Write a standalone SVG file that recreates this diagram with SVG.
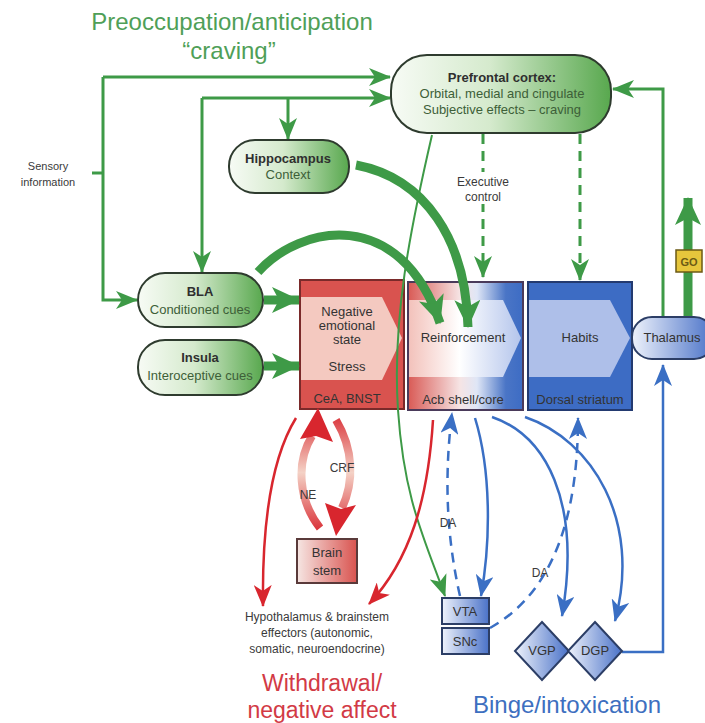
<svg xmlns="http://www.w3.org/2000/svg" width="705" height="723" viewBox="0 0 705 723">
  <defs>
    <style>
      text { font-family: "Liberation Sans", Arial, sans-serif; }
      .title { font-size: 23px; text-anchor: middle; }
      .nt { font-size: 13px; text-anchor: middle; fill: #333; }
      .ntb { font-size: 13px; text-anchor: middle; fill: #2f2f2f; font-weight: bold; }
      .ns { font-size: 13px; text-anchor: middle; fill: #3d5f38; }
      .sm { font-size: 12px; text-anchor: middle; fill: #3a3a3a; }
      .gnode { stroke: #2e3b2e; stroke-width: 2; fill: url(#gGrad); }
      .gline { fill: none; stroke: #3e9a47; stroke-width: 3; }
      .gthick { fill: none; stroke: #3e9a47; stroke-width: 9; }
      .rline { fill: none; stroke: #d8262e; stroke-width: 2.5; }
      .bline { fill: none; stroke: #3a6fc4; stroke-width: 2.5; }
      .dash { stroke-dasharray: 10 7; }
      .bnode { stroke: #2c3e66; stroke-width: 2; fill: url(#bGrad); }
      .flow { fill: none; stroke: url(#stressFlow); stroke-width: 8; }
    </style>
    <linearGradient id="gGrad" x1="0" y1="0" x2="1" y2="0">
      <stop offset="0" stop-color="#f7fbf5"/>
      <stop offset="0.45" stop-color="#d5eacd"/>
      <stop offset="1" stop-color="#58a84e"/>
    </linearGradient>
    <linearGradient id="bGrad" x1="0" y1="0" x2="1" y2="0">
      <stop offset="0" stop-color="#eef2fb"/>
      <stop offset="1" stop-color="#4a72c8"/>
    </linearGradient>
    <linearGradient id="rGrad" x1="0" y1="0" x2="1" y2="0">
      <stop offset="0" stop-color="#f6e6e3"/>
      <stop offset="1" stop-color="#d9534f"/>
    </linearGradient>
    <linearGradient id="acbOuter" x1="0" y1="0" x2="1" y2="0">
      <stop offset="0" stop-color="#d95a55"/>
      <stop offset="0.45" stop-color="#f6e4e4"/>
      <stop offset="0.6" stop-color="#dfe6f6"/>
      <stop offset="0.85" stop-color="#4a75c6"/>
      <stop offset="1" stop-color="#3d6cc4"/>
    </linearGradient>
    <linearGradient id="acbInner" x1="0" y1="0" x2="1" y2="0">
      <stop offset="0" stop-color="#f3c2bb"/>
      <stop offset="0.45" stop-color="#ffffff"/>
      <stop offset="1" stop-color="#b4c5ec"/>
    </linearGradient>
    <linearGradient id="stressFlow" gradientUnits="userSpaceOnUse" x1="0" y1="410" x2="0" y2="535">
      <stop offset="0" stop-color="#d8262e"/>
      <stop offset="0.5" stop-color="#f4d2c6"/>
      <stop offset="1" stop-color="#d8262e"/>
    </linearGradient>
    <marker id="gArrow" viewBox="0 0 22 18" refX="21" refY="9" markerWidth="22" markerHeight="18" orient="auto" markerUnits="userSpaceOnUse">
      <path d="M0,0 L22,9 L0,18 L6,9 z" fill="#3e9a47"/>
    </marker>
    <marker id="gBig" viewBox="0 0 28 26" refX="27" refY="13" markerWidth="28" markerHeight="26" orient="auto" markerUnits="userSpaceOnUse">
      <path d="M0,0 L28,13 L0,26 L7,13 z" fill="#3e9a47"/>
    </marker>
    <marker id="rArrow" viewBox="0 0 22 18" refX="21" refY="9" markerWidth="22" markerHeight="18" orient="auto" markerUnits="userSpaceOnUse">
      <path d="M0,0 L22,9 L0,18 L6,9 z" fill="#d8262e"/>
    </marker>
    <marker id="bArrow" viewBox="0 0 22 18" refX="21" refY="9" markerWidth="22" markerHeight="18" orient="auto" markerUnits="userSpaceOnUse">
      <path d="M0,0 L22,9 L0,18 L6,9 z" fill="#3a6fc4"/>
    </marker>
  </defs>

  <rect width="705" height="723" fill="#ffffff"/>

  <!-- stage titles -->
  <text class="title" x="232" y="30" fill="#4f9f58" style="font-size:24px">Preoccupation/anticipation</text>
  <text class="title" x="229" y="59" fill="#4f9f58" style="font-size:24px">“craving”</text>
  <text class="title" x="322" y="691" fill="#d23a45">Withdrawal/</text>
  <text class="title" x="322" y="718" fill="#d23a45">negative affect</text>
  <text class="title" x="567" y="713" fill="#3d6fc0" style="font-size:24px">Binge/intoxication</text>

  <!-- striatal / amygdala boxes -->
  <g id="cea-bnst">
    <rect x="300" y="280" width="104" height="129" fill="#d9534f" stroke="#7a2a2a" stroke-width="2"/>
    <polygon points="301,297 382,297 402,338 382,380 301,380" fill="#f4c9c0"/>
    <text class="nt" x="347" y="316" fill="#6b2c2c">Negative</text>
    <text class="nt" x="347" y="330" fill="#6b2c2c">emotional</text>
    <text class="nt" x="347" y="344" fill="#6b2c2c">state</text>
    <text class="nt" x="347" y="371" fill="#6b2c2c">Stress</text>
    <text class="nt" x="347" y="403" fill="#5a1f1f">CeA, BNST</text>
  </g>
  <g id="acb">
    <rect x="408" y="282" width="115" height="128" fill="url(#acbOuter)" stroke="#4a3a5a" stroke-width="2"/>
    <polygon points="409,300 503,300 521,338 503,377 409,377" fill="url(#acbInner)"/>
    <text class="nt" x="463" y="342" fill="#444">Reinforcement</text>
    <text class="nt" x="463" y="404" fill="#4a2a2a">Acb shell/core</text>
  </g>
  <g id="dorsal-striatum">
    <rect x="528" y="282" width="104" height="128" fill="#3d6cc4" stroke="#233a70" stroke-width="2"/>
    <polygon points="529,300 610,300 630,338 610,377 529,377" fill="#aebfe9"/>
    <text class="nt" x="580" y="342" fill="#2b3a66">Habits</text>
    <text class="nt" x="580" y="404" fill="#1f2f66">Dorsal striatum</text>
  </g>

  <!-- connectors -->
  <g id="connectors">
    <!-- sensory input and cortical loops -->
    <path class="gline" d="M92,173 H103"/>
    <path class="gline" d="M103,77 H390" marker-end="url(#gArrow)"/>
    <path class="gline" d="M103,77 V300 H137" marker-end="url(#gArrow)"/>
    <path class="gline" d="M202,98 H390" marker-end="url(#gArrow)"/>
    <path class="gline" d="M202,98 V272" marker-end="url(#gArrow)"/>
    <path class="gline" d="M288,98 V139" marker-end="url(#gArrow)"/>
    <path class="gline" d="M663,317 V89 H613" marker-end="url(#gArrow)"/>
    <path class="gthick" d="M688,317 V198" marker-end="url(#gBig)"/>
    <!-- executive control -->
    <path class="gline dash" d="M483,134 V277" marker-end="url(#gArrow)"/>
    <path class="gline dash" d="M580,134 V280" marker-end="url(#gArrow)"/>
    <!-- cue inputs to extended amygdala -->
    <path class="gthick" d="M264,300 H299" marker-end="url(#gBig)"/>
    <path class="gthick" d="M264,366 H299" marker-end="url(#gBig)"/>
    <!-- context and cue inputs to accumbens -->
    <path class="gthick" d="M258,272 C300,225 400,205 440,323" marker-end="url(#gBig)"/>
    <path class="gthick" d="M356,165 C425,178 466,240 468,327" marker-end="url(#gBig)"/>
    <!-- cortex to VTA -->
    <path fill="none" stroke="#3e9a47" stroke-width="2" d="M432,135 C410,230 392,320 398,410 S425,540 445,596" marker-end="url(#gArrow)"/>

    <!-- withdrawal outputs -->
    <path class="rline" d="M296,418 C270,460 262,530 263,606" marker-end="url(#rArrow)"/>
    <path class="rline" d="M433,420 C428,500 410,560 369,604" marker-end="url(#rArrow)"/>
    <!-- NE: brain stem up to extended amygdala -->
    <path class="flow" d="M320,528 C298,500 296,462 312,436"/>
    <polygon points="318,408 333,442 316,436 300,439" fill="#d8262e"/>
    <!-- CRF: extended amygdala down to brain stem -->
    <path class="flow" d="M336,420 C354,450 354,482 342,508"/>
    <polygon points="336,536 325,503 341,509 356,505" fill="#d8262e"/>

    <!-- basal ganglia loop -->
    <path class="bline dash" d="M460,596 C445,530 445,470 452,413" marker-end="url(#bArrow)"/>
    <path class="bline" d="M475,418 C491,470 491,540 481,596" marker-end="url(#bArrow)"/>
    <path class="bline" d="M492,417 C545,435 582,500 562,616" marker-end="url(#bArrow)"/>
    <path class="bline" d="M525,417 C592,440 642,520 615,621" marker-end="url(#bArrow)"/>
    <path class="bline dash" d="M490,628 C540,600 578,540 578,418" marker-end="url(#bArrow)"/>
    <path class="bline" d="M622,652 H663 V365" marker-end="url(#bArrow)"/>
  </g>

  <!-- connector labels -->
  <text class="sm" x="48" y="170" style="font-size:11px">Sensory</text>
  <text class="sm" x="48" y="186" style="font-size:11px">information</text>
  <rect x="456" y="172" width="54" height="32" fill="#ffffff"/>
  <text class="sm" x="483" y="186">Executive</text>
  <text class="sm" x="483" y="201">control</text>
  <text class="sm" x="342" y="472">CRF</text>
  <text class="sm" x="308" y="499">NE</text>
  <text class="sm" x="448" y="527">DA</text>
  <text class="sm" x="540" y="577">DA</text>

  <!-- cortical and limbic nodes -->
  <g id="prefrontal-cortex">
    <rect class="gnode" x="391" y="55" width="220" height="78" rx="36"/>
    <text class="ntb" x="502" y="82">Prefrontal cortex:</text>
    <text class="ns" x="502" y="98">Orbital, medial and cingulate</text>
    <text class="ns" x="502" y="114">Subjective effects – craving</text>
  </g>
  <g id="hippocampus">
    <rect class="gnode" x="229" y="140" width="120" height="53" rx="26"/>
    <text class="ntb" x="288" y="163">Hippocampus</text>
    <text class="ns" x="288" y="179">Context</text>
  </g>
  <g id="bla">
    <rect class="gnode" x="138" y="273" width="125" height="54" rx="27"/>
    <text class="ntb" x="200" y="296">BLA</text>
    <text class="ns" x="200" y="314">Conditioned cues</text>
  </g>
  <g id="insula">
    <rect class="gnode" x="138" y="340" width="125" height="55" rx="27"/>
    <text class="ntb" x="200" y="362">Insula</text>
    <text class="ns" x="200" y="380">Interoceptive cues</text>
  </g>
  <g id="thalamus">
    <rect x="632" y="317" width="82" height="42" rx="20" fill="url(#bGrad)" stroke="#2c3e66" stroke-width="2"/>
    <text class="nt" x="672" y="342" fill="#2b3a66">Thalamus</text>
  </g>
  <g id="go">
    <rect x="676" y="250" width="26" height="22" fill="#e6c63c" stroke="#6b5a14" stroke-width="1.5"/>
    <text x="689" y="266" font-size="11" text-anchor="middle" fill="#6b5a14" font-weight="bold">GO</text>
  </g>

  <!-- brainstem and midbrain nodes -->
  <g id="brain-stem">
    <rect x="297" y="539" width="60" height="44" fill="url(#rGrad)" stroke="#5a3a3a" stroke-width="2"/>
    <text class="nt" x="327" y="557" fill="#5a3a3a">Brain</text>
    <text class="nt" x="327" y="575" fill="#5a3a3a">stem</text>
  </g>
  <g id="hypothalamus">
    <text class="sm" x="317" y="621">Hypothalamus &amp; brainstem</text>
    <text class="sm" x="317" y="637">effectors (autonomic,</text>
    <text class="sm" x="317" y="653">somatic, neuroendocrine)</text>
  </g>
  <g id="vta">
    <rect class="bnode" x="442" y="598" width="47" height="26"/>
    <text class="nt" x="465" y="616" fill="#23345e">VTA</text>
  </g>
  <g id="snc">
    <rect class="bnode" x="442" y="628" width="47" height="26"/>
    <text class="nt" x="465" y="646" fill="#23345e">SNc</text>
  </g>
  <g id="vgp">
    <polygon class="bnode" points="542,622 569,651 542,680 515,651"/>
    <text class="nt" x="542" y="655" fill="#23345e">VGP</text>
  </g>
  <g id="dgp">
    <polygon class="bnode" points="595,622 622,651 595,680 568,651"/>
    <text class="nt" x="595" y="655" fill="#23345e">DGP</text>
  </g>
</svg>
